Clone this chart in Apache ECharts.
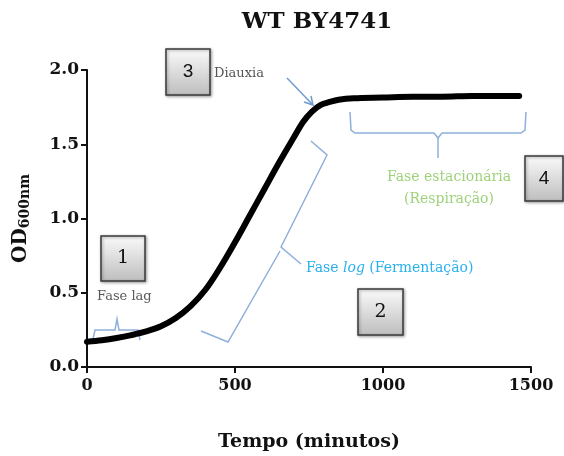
<!DOCTYPE html>
<html>
<head>
<meta charset="utf-8">
<script src="https://cdn.jsdelivr.net/npm/echarts@6/dist/echarts.min.js"></script>
<style>
  html, body { margin: 0; padding: 0; background: #fff; }
  #chart { width: 564px; height: 456px; }
</style>
</head>
<body>
<div id="chart"></div>
<script>
// growth curve
var tempo = [0, 50, 100, 150, 200, 250, 300, 350, 400, 450, 500, 550, 600, 650, 700, 730, 760, 790, 820, 850, 900, 1000, 1100, 1200, 1300, 1400, 1460];
var od = [0.17, 0.18, 0.195, 0.215, 0.24, 0.275, 0.33, 0.41, 0.52, 0.67, 0.84, 1.02, 1.20, 1.38, 1.55, 1.65, 1.72, 1.765, 1.785, 1.80, 1.81, 1.815, 1.82, 1.82, 1.825, 1.825, 1.825];
var xTicks = [0, 500, 1000, 1500];
var yTicks = [0, 0.5, 1.0, 1.5, 2.0];

var serif = '"DejaVu Serif", serif';
var brace = '#8fb0da';

var chart = echarts.init(document.getElementById('chart'));

// little numbered grey box
function numBox(x, y, w, h, txt, fam) {
	return {
		type: 'group', x: x, y: y,
		children: [
			{type: 'rect', shape: {width: w, height: h},
				style: {
					fill: new echarts.graphic.LinearGradient(0, 0, 0, 1, [{offset: 0, color: '#fbfbfb'}, {offset: 1, color: '#bdbdbd'}]),
					stroke: '#3a3a3a', lineWidth: 1.5,
					shadowBlur: 3, shadowColor: 'rgba(0,0,0,0.35)', shadowOffsetX: 1, shadowOffsetY: 1
				}},
			{type: 'text', x: w / 2, y: h / 2,
				style: {text: txt, font: '19px ' + fam, fill: '#111', align: 'center', verticalAlign: 'middle'}}
		]
	};
}

var option = {
	animation: false,
	backgroundColor: '#fff',
	title: {
		text: 'WT BY4741', left: 312, top: 6, textAlign: 'center',
		textStyle: {fontFamily: serif, fontSize: 23, fontWeight: 'bold', color: '#111'}
	},
	grid: {left: 87, right: 33, top: 70, bottom: 89, outerBoundsMode: 'none'},
	xAxis: {
		type: 'value', min: 0, max: 1500, interval: 500,
		name: 'Tempo (minutos)', nameLocation: 'middle', nameGap: 66,
		nameTextStyle: {fontFamily: serif, fontSize: 19, fontWeight: 'bold', color: '#111'},
		axisLine: {lineStyle: {color: '#111', width: 2}},
		axisTick: {show: true, length: 6, lineStyle: {width: 2, color: '#111'}},
		axisLabel: {
			fontFamily: serif, fontSize: 16, fontWeight: 'bold', color: '#111', margin: 11,
			customValues: xTicks,
			formatter: function (v) { return String(v); }
		},
		splitLine: {show: false}
	},
	yAxis: {
		type: 'value', min: 0, max: 2, interval: 0.5,
		name: 'OD{sub|600nm}', nameLocation: 'middle', nameGap: 55, nameRotate: 90,
		nameTextStyle: {
			fontFamily: serif, fontSize: 20, fontWeight: 'bold', color: '#111',
			rich: {sub: {fontFamily: serif, fontSize: 14, fontWeight: 'bold', color: '#111', verticalAlign: 'bottom', padding: [9, 0, 0, 0]}}
		},
		axisLine: {show: true, lineStyle: {color: '#111', width: 2}},
		axisTick: {show: true, length: 6, lineStyle: {width: 2, color: '#111'}},
		axisLabel: {
			fontFamily: serif, fontSize: 17, fontWeight: 'bold', color: '#111', margin: 8,
			customValues: yTicks,
			formatter: function (v) { return v.toFixed(1); }
		},
		splitLine: {show: false}
	},
	series: [{
		type: 'line',
		data: tempo.map(function (t, i) { return [t, od[i]]; }),
		smooth: 0.35,
		showSymbol: false,
		lineStyle: {color: '#000', width: 6, cap: 'round'}
	}],
	graphic: [
		numBox(101, 236, 44, 45, '1', serif),
		numBox(358, 289, 45, 46, '2', serif),
		numBox(166, 49, 44, 46, '3', '"Liberation Sans", sans-serif'),
		numBox(525, 156, 38, 45, '4', '"Liberation Sans", sans-serif'),
		{type: 'text', x: 97, y: 290, style: {text: 'Fase lag', font: '13px ' + serif, fill: '#5a5a5a'}},
		{type: 'text', x: 214, y: 67, style: {text: 'Diauxia', font: '13px ' + serif, fill: '#555'}},
		{type: 'text', x: 449, y: 166, style: {text: 'Fase estacionária\n(Respiração)', font: '14px ' + serif, fill: '#9ed27a', align: 'center', lineHeight: 22}},
		{type: 'text', x: 306, y: 261, style: {
			text: '{a|Fase }{b|log}{a| (Fermentação)}',
			rich: {
				a: {fontFamily: serif, fontSize: 14, fill: '#2ab0ec'},
				b: {fontFamily: serif, fontSize: 14, fontStyle: 'italic', fill: '#2ab0ec'}
			}
		}},
		// lag brace
		{type: 'polyline', shape: {points: [[93, 339], [95, 330], [115, 330], [117, 319], [119, 330], [138, 330], [140, 340]]},
			style: {stroke: brace, lineWidth: 1.5, fill: null}},
		// stationary brace
		{type: 'polyline', shape: {points: [[350, 112], [351, 130], [355, 133], [434, 133], [438, 138], [442, 133], [521, 133], [525, 130], [526, 112]]},
			style: {stroke: brace, lineWidth: 1.5, fill: null}},
		{type: 'line', shape: {x1: 438, y1: 138, x2: 438, y2: 158}, style: {stroke: brace, lineWidth: 1.5}},
		// log brace
		{type: 'polyline', shape: {points: [[311, 141], [327, 155], [281, 247], [301, 264]]},
			style: {stroke: brace, lineWidth: 1.5, fill: null}},
		{type: 'polyline', shape: {points: [[280, 251], [228, 342], [201, 331]]},
			style: {stroke: brace, lineWidth: 1.5, fill: null}},
		// diauxia arrow
		{type: 'line', shape: {x1: 287, y1: 78, x2: 312, y2: 104}, style: {stroke: '#6f9bd1', lineWidth: 1.5}},
		{type: 'polyline', shape: {points: [[304, 102], [313, 105], [311, 96]]}, style: {stroke: '#6f9bd1', lineWidth: 1.5, fill: null}}
	]
};
chart.setOption(option);
</script>
</body>
</html>
